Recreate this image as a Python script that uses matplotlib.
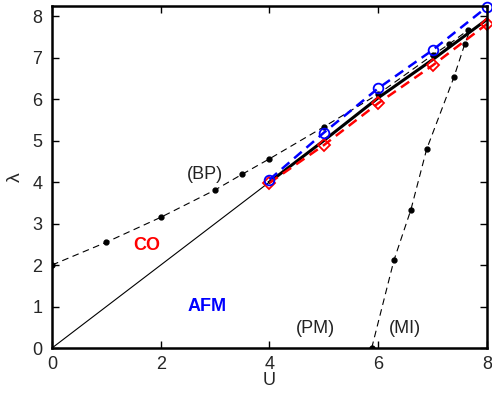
import numpy as np
import matplotlib
matplotlib.use('Agg')
import matplotlib.pyplot as plt

plt.rcParams['font.family'] = ['Liberation Sans', 'DejaVu Sans']

# Datos
U_bp = [0, 1, 2, 3, 3.5, 4, 5, 6, 7, 7.3, 7.65]
lam_bp = [2.0, 2.55, 3.15, 3.81, 4.19, 4.56, 5.33, 6.12, 7.06, 7.32, 7.66]

U_mi = [5.88, 6.29, 6.6, 6.89, 7.39, 7.59, 7.7]
lam_mi = [0.0, 2.12, 3.33, 4.79, 6.52, 7.32, 7.7]

U_lin = [0, 4]
lam_lin = [0, 4]

U_af = [4, 5, 6, 7, 8]
lam_black = [4.0, 5.0, 6.03, 6.95, 7.92]
lam_red = [3.98, 4.89, 5.90, 6.81, 7.81]
lam_blue = [4.06, 5.19, 6.26, 7.18, 8.22]

fig = plt.figure(figsize=(4.92, 3.96), dpi=100)
ax = fig.add_axes([0.1057, 0.1212, 0.8841, 0.8644])

ax.plot(U_lin, lam_lin, 'k-', linewidth=0.8)
ax.plot(U_bp, lam_bp, 'k--', linewidth=0.8, dashes=(6, 4), marker='o', markersize=3.5)
ax.plot(U_mi, lam_mi, 'k--', linewidth=0.8, dashes=(6, 4), marker='o', markersize=3.5, markevery=range(6))
ax.plot(U_af, lam_black, 'k-', linewidth=2.2)
ax.plot(U_af, lam_red, '--', color='red', linewidth=1.8, dashes=(4, 2.5),
        marker='D', markersize=6, markerfacecolor='none', markeredgewidth=1.3, clip_on=False)
ax.plot(U_af, lam_blue, '--', color='blue', linewidth=1.8, dashes=(4, 2.5),
        marker='o', markersize=7, markerfacecolor='none', markeredgewidth=1.3, clip_on=False)

ax.text(2.48, 4.17, '(BP)', fontsize=13, color='#222222', va='center')
ax.text(1.5, 2.48, 'CO', fontsize=13, color='red', fontweight='bold', va='center')
ax.text(2.5, 0.99, 'AFM', fontsize=13, color='blue', fontweight='bold', va='center')
ax.text(4.49, 0.48, '(PM)', fontsize=13, color='#222222', va='center')
ax.text(6.19, 0.48, '(MI)', fontsize=13, color='#222222', va='center')

ax.set_xlim(0, 8)
ax.set_ylim(0, 8.25)
ax.set_xticks([0, 2, 4, 6, 8])
ax.set_yticks(range(9))
ax.tick_params(direction='in', top=True, right=True, labelsize=13, length=5, width=1,
               labelcolor='#262626')
ax.tick_params(axis='x', pad=6)
ax.tick_params(axis='y', pad=7)
for s in ax.spines.values():
    s.set_linewidth(1.8)

ax.set_xlabel('U', fontsize=13, labelpad=-1, color='#262626')
ax.set_ylabel('λ', fontsize=14, labelpad=6, color='#262626')

plt.savefig('out.png', dpi=100)
plt.close()
